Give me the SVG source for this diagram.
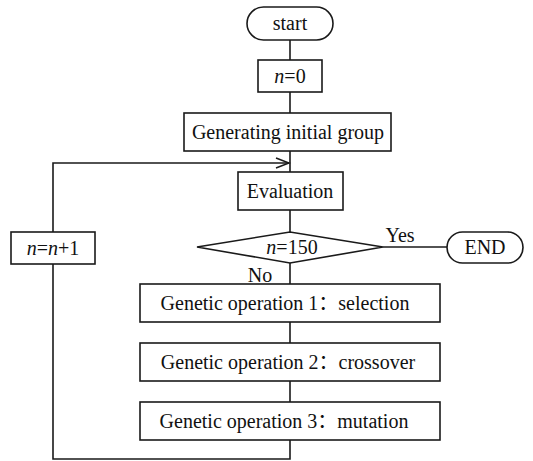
<svg xmlns="http://www.w3.org/2000/svg" width="533" height="461" viewBox="0 0 533 461">
<style>
.b{fill:#fff;stroke:#1a1a1a;stroke-width:1.6}
.c{fill:none;stroke:#1a1a1a;stroke-width:1.6}
text{font-family:"Liberation Serif","Noto Sans CJK SC",serif;font-size:20px;fill:#111;text-anchor:middle}
.i{font-style:italic}
</style>
<defs>
<marker id="ah" markerWidth="16" markerHeight="12" refX="14" refY="6" orient="auto" markerUnits="userSpaceOnUse">
<path d="M1,1 L14,6 L1,11" fill="none" stroke="#1a1a1a" stroke-width="1.6"/>
</marker>
</defs>
<g id="connectors">
<line class="c" x1="290" y1="40" x2="290" y2="60"/>
<line class="c" x1="290" y1="92" x2="290" y2="113"/>
<line class="c" x1="290" y1="151" x2="290" y2="172"/>
<line class="c" x1="290" y1="210" x2="290" y2="232"/>
<line class="c" x1="290" y1="263" x2="290" y2="284"/>
<line class="c" x1="290" y1="322" x2="290" y2="343"/>
<line class="c" x1="290" y1="381" x2="290" y2="402"/>
<line class="c" x1="383" y1="247" x2="447" y2="247"/>
<polyline class="c" points="290,440 290,459 53,459 53,264"/>
<polyline class="c" points="53,232 53,163 289,163" marker-end="url(#ah)"/>
<text x="400" y="242">Yes</text>
<text x="260" y="282">No</text>
</g>
<g id="start">
<rect class="b" x="247" y="7" width="86" height="33" rx="16.5"/>
<text x="290" y="29.5">start</text>
</g>
<g id="n0">
<rect class="b" x="258" y="60" width="64" height="32"/>
<text x="290" y="83"><tspan class="i">n</tspan>=0</text>
</g>
<g id="init">
<rect class="b" x="184" y="113" width="207" height="38"/>
<text x="288" y="139">Generating initial group</text>
</g>
<g id="eval">
<rect class="b" x="238" y="172" width="105" height="38"/>
<text x="290" y="198">Evaluation</text>
</g>
<g id="cond">
<polygon class="b" points="197,247 290,232 383,247 290,263"/>
<text x="292" y="254"><tspan class="i">n</tspan>=150</text>
</g>
<g id="end">
<rect class="b" x="447" y="232" width="76" height="31" rx="15.5"/>
<text x="485" y="254">END</text>
</g>
<g id="inc">
<rect class="b" x="11" y="232" width="84" height="32"/>
<text x="53" y="255"><tspan class="i">n</tspan>=<tspan class="i">n</tspan>+1</text>
</g>
<g id="op1">
<rect class="b" x="140" y="284" width="300" height="38"/>
<text x="285" y="310">Genetic operation 1：selection</text>
</g>
<g id="op2">
<rect class="b" x="140" y="343" width="300" height="38"/>
<text x="288" y="369">Genetic operation 2：crossover</text>
</g>
<g id="op3">
<rect class="b" x="140" y="402" width="300" height="38"/>
<text x="284" y="428">Genetic operation 3：mutation</text>
</g>
</svg>
